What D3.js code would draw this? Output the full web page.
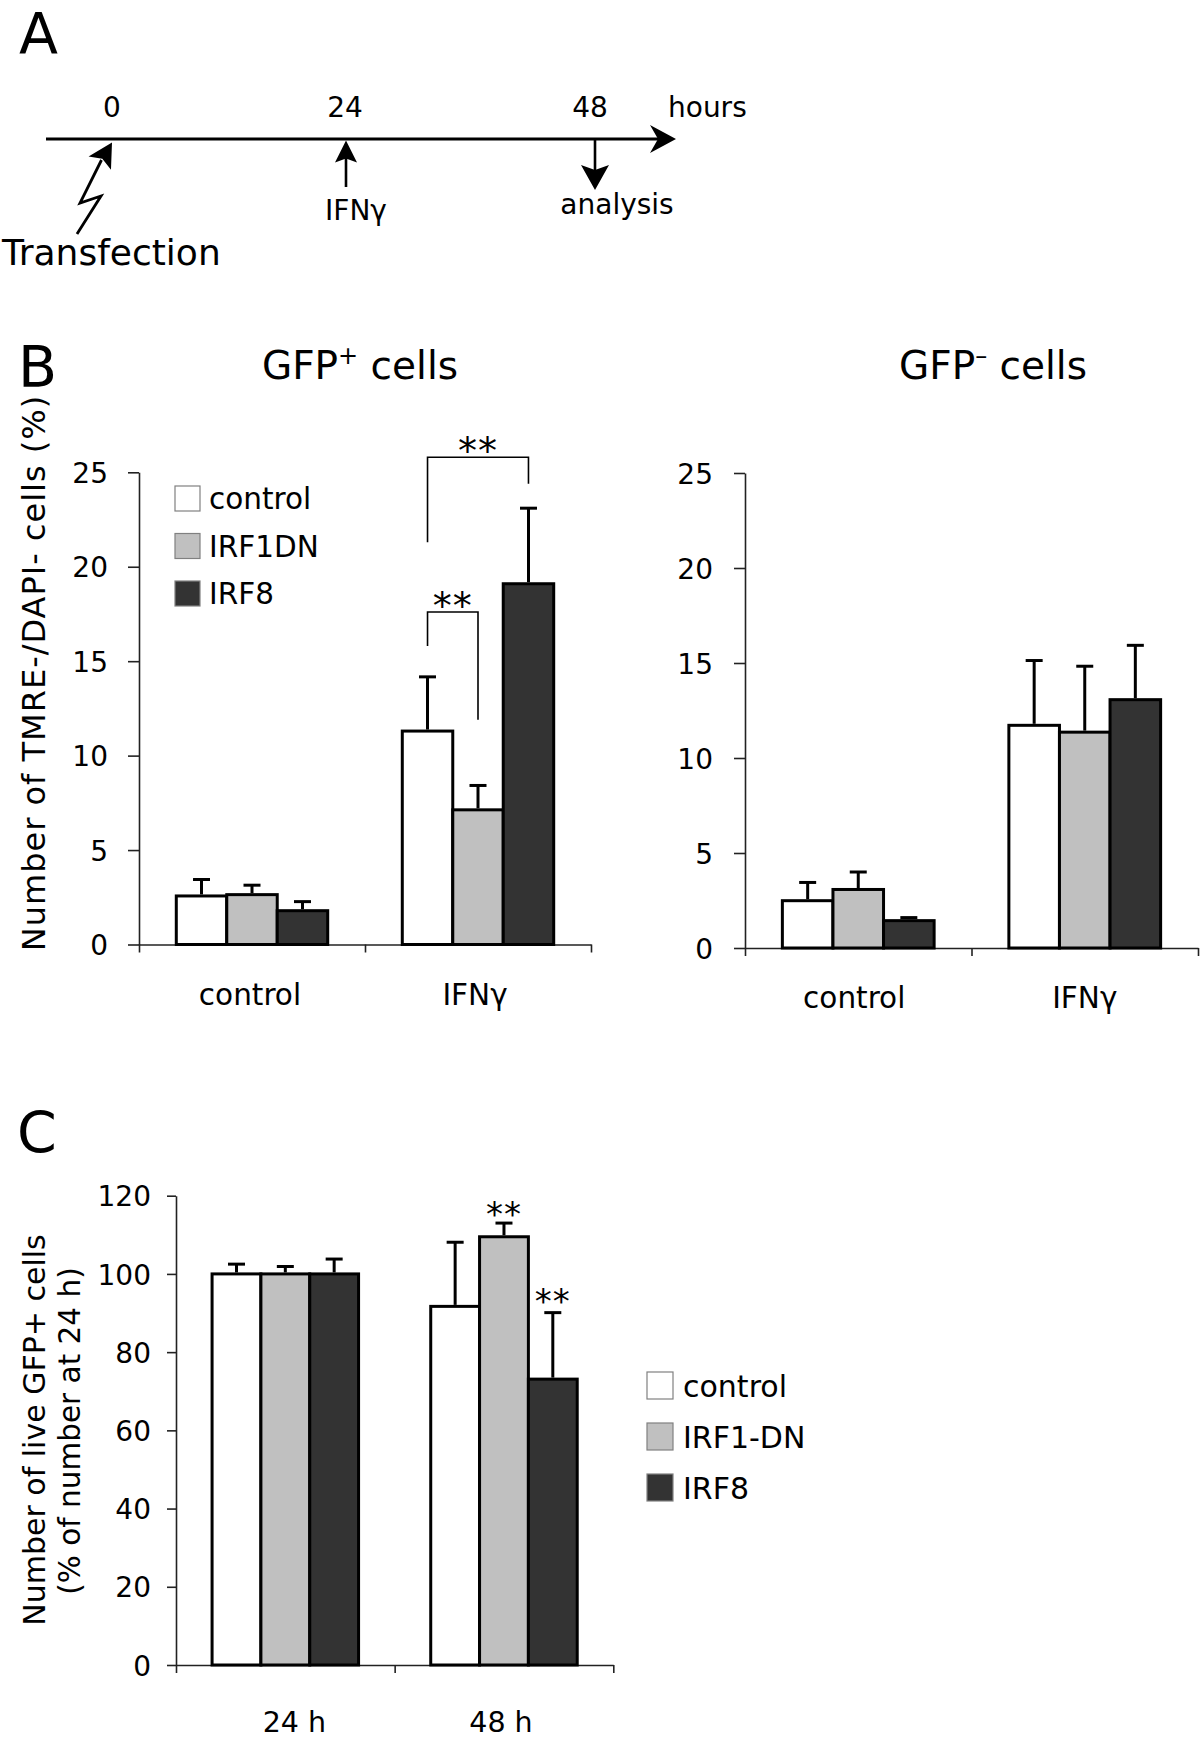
<!DOCTYPE html>
<html><head><meta charset="utf-8">
<script src="https://cdn.jsdelivr.net/npm/d3@7"></script>
<style>
body{margin:0;background:#fff;}
svg{display:block;}
text{font-family:"DejaVu Sans",Verdana,sans-serif;fill:#000;}
</style>
</head><body>
<svg id="fig" width="1200" height="1739"></svg>
<script>
// ---------------- DATA ----------------
const seriesNamesB = ["control", "IRF1DN", "IRF8"];
const seriesNamesC = ["control", "IRF1-DN", "IRF8"];
const seriesColors = ["#ffffff", "#c0c0c0", "#333333"];

const treatmentsB = ["control", "IFNγ"];
const gfpPosMeans = [[2.57, 2.64, 1.79], [11.3, 7.13, 19.1]];
const gfpPosErr   = [[0.87, 0.50, 0.48], [2.87, 1.29, 4.0]];
const gfpNegMeans = [[2.49, 3.08, 1.44], [11.72, 11.36, 13.07]];
const gfpNegErr   = [[0.96, 0.92, 0.16], [3.41, 3.47, 2.86]];
const yTicksB = [0, 5, 10, 15, 20, 25];

const timesC = ["24 h", "48 h"];
const liveMeans = [[100, 100, 100], [91.7, 109.5, 73.1]];
const liveErr   = [[2.5, 1.9, 3.8], [16.4, 3.5, 17.0]];
const yTicksC = [0, 20, 40, 60, 80, 100, 120];

// significance brackets in GFP+ panel (group index, series a, series b, values)
const bracketsB = [
  {group: 1, a: 0, b: 1, top: 17.6, aEnd: 15.8, bEnd: 11.9, label: "**"},
  {group: 1, a: 0, b: 2, top: 25.8, aEnd: 21.3, bEnd: 24.4, label: "**"}
];
const starsC = [
  {group: 1, s: 1, value: 117.1, label: "**"},
  {group: 1, s: 2, value: 94.7, label: "**"}
];

const timelineHours = [0, 24, 48];
const timelineEvents = ["Transfection", "IFNγ", "analysis"];

// ---------------- DRAW ----------------
const svg = d3.select("#fig");
const FONT = '"DejaVu Sans", Verdana, sans-serif';

function panelLetter(t, x, y) {
  svg.append("text").attr("x", x).attr("y", y).attr("font-size", 57).text(t);
}

function arrowHead(g, tx, ty, angleDeg, len, half, notch) {
  const pts = [[0, 0], [-len, -half], [-len + notch, 0], [-len, half]];
  g.append("polygon")
    .attr("points", pts.map(p => p.join(",")).join(" "))
    .attr("transform", `translate(${tx},${ty}) rotate(${angleDeg})`)
    .attr("fill", "#000");
}

// ----- Panel A -----
panelLetter("A", 19, 54);
const A = svg.append("g");
const tl = d3.scaleLinear().domain([0, 24, 48]).range([112, 345, 590]);
const lineY = 139;
A.append("line").attr("x1", tl(0) - 66).attr("x2", tl(48) + 70)
  .attr("y1", lineY).attr("y2", lineY).attr("stroke", "#000").attr("stroke-width", 2.8);
arrowHead(A, tl(48) + 86, lineY, 0, 26, 14, 8);

A.selectAll("text.hr").data(timelineHours).join("text")
  .attr("x", d => tl(d)).attr("y", 117).attr("text-anchor", "middle")
  .attr("font-size", 28).text(d => d);
A.append("text").attr("x", 668).attr("y", 117).attr("font-size", 28).text("hours");

// lightning (transfection) arrow at 0 h
A.append("polyline")
  .attr("points", [[tl(0) - 10.5, 160], [tl(0) - 32, 203], [tl(0) - 11, 196], [tl(0) - 35, 234]].map(p => p.join(",")).join(" "))
  .attr("fill", "none").attr("stroke", "#000").attr("stroke-width", 2.8).attr("stroke-linejoin", "miter");
arrowHead(A, tl(0), 142.5, -59.4, 24, 13, 5);
A.append("text").attr("x", 2).attr("y", 265).attr("font-size", 36).text(timelineEvents[0]);

// IFNγ arrow at 24 h
A.append("line").attr("x1", tl(24) + 1).attr("x2", tl(24) + 1).attr("y1", 187).attr("y2", 155)
  .attr("stroke", "#000").attr("stroke-width", 2.6);
arrowHead(A, tl(24) + 1, 140.5, -90, 22, 11, 4);
A.append("text").attr("x", tl(24) + 11).attr("y", 220).attr("text-anchor", "middle")
  .attr("font-size", 28).text(timelineEvents[1]);

// analysis arrow at 48 h
A.append("line").attr("x1", tl(48) + 5).attr("x2", tl(48) + 5).attr("y1", lineY).attr("y2", 172)
  .attr("stroke", "#000").attr("stroke-width", 2.6);
arrowHead(A, tl(48) + 5, 190, 90, 25, 14, 5);
A.append("text").attr("x", tl(48) + 27).attr("y", 214).attr("text-anchor", "middle")
  .attr("font-size", 28).text(timelineEvents[2]);

// ----- generic grouped bar chart -----
function barChart(o) {
  const g = svg.append("g");
  const y = d3.scaleLinear().domain([0, o.maxVal]).range([o.zeroY, o.topY]);
  const xb = d3.scaleBand().domain(o.cats).range([o.left, o.right]).padding(0);
  const bw = xb.bandwidth();
  const pad = bw * 0.165;
  const xs = d3.scaleBand().domain(d3.range(o.means[0].length)).range([pad, bw - pad]).padding(0);

  // y axis
  const ya = g.append("g").attr("transform", `translate(${o.left},0)`)
    .call(d3.axisLeft(y).tickValues(o.ticks).tickSize(o.tickLen).tickPadding(o.tickPad).tickSizeOuter(0));
  ya.attr("font-size", o.tickFont).attr("font-family", FONT);
  ya.selectAll("text").attr("fill", "#000").attr("dy", "0.36em");
  ya.selectAll("line,path").attr("stroke", "#222").attr("stroke-width", 1.6);

  // x axis (ticks between categories)
  const xl = d3.scaleLinear().domain([0, o.cats.length]).range([o.left, o.right]);
  const xa = g.append("g").attr("transform", `translate(0,${o.zeroY})`)
    .call(d3.axisBottom(xl).tickValues(d3.range(o.cats.length + 1)).tickFormat("").tickSize(8).tickSizeOuter(0));
  xa.selectAll("line,path").attr("stroke", "#222").attr("stroke-width", 1.6);

  // bars
  o.cats.forEach((c, gi) => {
    o.means[gi].forEach((v, si) => {
      const x0 = xb(c) + xs(si);
      const w = xs.bandwidth();
      g.append("rect").attr("x", x0).attr("y", y(v)).attr("width", w).attr("height", o.zeroY - y(v))
        .attr("fill", seriesColors[si]).attr("stroke", "#000").attr("stroke-width", 3);
      const e = o.errs[gi][si];
      const cx = x0 + w / 2;
      g.append("line").attr("x1", cx).attr("x2", cx).attr("y1", y(v) - 1.5).attr("y2", y(v + e))
        .attr("stroke", "#000").attr("stroke-width", 3);
      g.append("line").attr("x1", cx - 8.5).attr("x2", cx + 8.5).attr("y1", y(v + e)).attr("y2", y(v + e))
        .attr("stroke", "#000").attr("stroke-width", 3);
    });
    g.append("text").attr("x", xb(c) + bw / 2 + (o.labelDx ? o.labelDx[gi] : 0)).attr("y", o.labelY)
      .attr("text-anchor", "middle").attr("font-size", o.labelFont).text(c);
  });
  return {g, y, xb, xs};
}

// ----- Panel B -----
panelLetter("B", 18, 387);
svg.append("text").attr("x", 360).attr("y", 379).attr("text-anchor", "middle").attr("font-size", 39)
  .call(t => { t.append("tspan").text("GFP");
               t.append("tspan").attr("font-size", 24).attr("dy", -15).text("+");
               t.append("tspan").attr("dy", 15).text(" cells"); });
svg.append("text").attr("x", 993).attr("y", 379).attr("text-anchor", "middle").attr("font-size", 39)
  .call(t => { t.append("tspan").text("GFP");
               t.append("tspan").attr("font-size", 24).attr("dy", -15).text("–");
               t.append("tspan").attr("dy", 15).text(" cells"); });

const bl = barChart({left: 139, right: 591, zeroY: 944.5, topY: 472.3, maxVal: 25, ticks: yTicksB,
  cats: treatmentsB, means: gfpPosMeans, errs: gfpPosErr, tickLen: 11, tickPad: 20, tickFont: 28,
  labelY: 1005, labelFont: 29.5, labelDx: [-2, -3]});
const br = barChart({left: 745, right: 1198, zeroY: 948, topY: 473, maxVal: 25, ticks: yTicksB,
  cats: treatmentsB, means: gfpNegMeans, errs: gfpNegErr, tickLen: 11, tickPad: 21, tickFont: 28,
  labelY: 1008, labelFont: 29.5, labelDx: [-4, 0]});

// y-axis title B
svg.append("text").attr("transform", "translate(45,673) rotate(-90)").attr("text-anchor", "middle")
  .attr("font-size", 32).attr("letter-spacing", 1.0).text("Number of TMRE-/DAPI- cells (%)");

// brackets
bracketsB.forEach(b => {
  const c = treatmentsB[b.group];
  const xa = bl.xb(c) + bl.xs(b.a) + bl.xs.bandwidth() / 2;
  const xbb = bl.xb(c) + bl.xs(b.b) + bl.xs.bandwidth() / 2;
  const yt = bl.y(b.top);
  bl.g.append("path")
    .attr("d", `M${xa},${bl.y(b.aEnd)}V${yt}H${xbb}V${bl.y(b.bEnd)}`)
    .attr("fill", "none").attr("stroke", "#000").attr("stroke-width", 1.6);
  bl.g.append("text").attr("x", (xa + xbb) / 2).attr("y", yt - 14 + 20.5).attr("text-anchor", "middle")
    .attr("font-size", 38).attr("letter-spacing", 1).text(b.label);
});

// legend B
const legB = svg.append("g");
seriesNamesB.forEach((n, i) => {
  const yy = 486 + i * 47.5;
  legB.append("rect").attr("x", 175).attr("y", yy).attr("width", 25).attr("height", 25)
    .attr("fill", seriesColors[i]).attr("stroke", "#808080").attr("stroke-width", 1.2);
  legB.append("text").attr("x", 209).attr("y", yy + 23).attr("font-size", 29.5).text(n);
});

// ----- Panel C -----
panelLetter("C", 17, 1153);
const cc = barChart({left: 176, right: 613.3, zeroY: 1665, topY: 1195.7, maxVal: 120, ticks: yTicksC,
  cats: timesC, means: liveMeans, errs: liveErr, tickLen: 9, tickPad: 16, tickFont: 28,
  labelY: 1731.5, labelFont: 28.5, labelDx: [9, -3]});
starsC.forEach(s => {
  const c = timesC[s.group];
  const x = cc.xb(c) + cc.xs(s.s) + cc.xs.bandwidth() / 2;
  cc.g.append("text").attr("x", x).attr("y", cc.y(s.value) + 18.5).attr("text-anchor", "middle")
    .attr("font-size", 34).attr("letter-spacing", 1).text(s.label);
});
svg.append("text").attr("transform", "translate(45,1430) rotate(-90)").attr("text-anchor", "middle")
  .attr("font-size", 30).text("Number of live GFP+ cells");
svg.append("text").attr("transform", "translate(80,1431) rotate(-90)").attr("text-anchor", "middle")
  .attr("font-size", 29.5).text("(% of number at 24 h)");

const legC = svg.append("g");
seriesNamesC.forEach((n, i) => {
  const yy = 1372 + i * 51;
  legC.append("rect").attr("x", 647).attr("y", yy).attr("width", 26).attr("height", 27)
    .attr("fill", seriesColors[i]).attr("stroke", "#808080").attr("stroke-width", 1.2);
  legC.append("text").attr("x", 683).attr("y", yy + 25).attr("font-size", 30).text(n);
});
</script>
</body></html>
